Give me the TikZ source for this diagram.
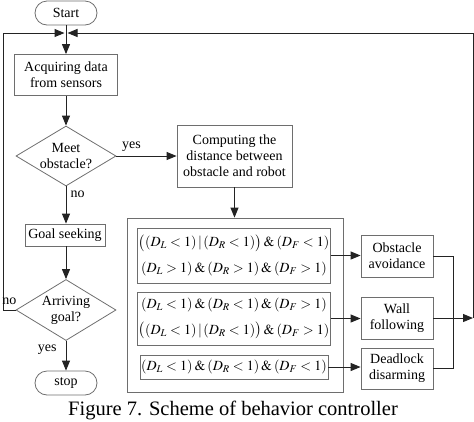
\documentclass[tikz,border=0pt]{standalone}
\usepackage{mathptmx}
\usepackage{fontspec}
\setmainfont{Liberation Serif}
\usepackage{xcolor}
\usepackage{tikz}
\usetikzlibrary{arrows.meta,positioning,shapes.geometric}
\definecolor{boxline}{RGB}{110,110,110}
\definecolor{flowline}{RGB}{35,35,35}

\begin{document}
\begin{tikzpicture}[x=1pt, y=-1pt,
  every node/.style={font=\fontsize{14}{16}\selectfont, align=center, inner sep=1pt},
  proc_node/.style={draw=boxline, line width=0.8pt},
  dec_node/.style={draw=boxline, line width=0.8pt, diamond, aspect=1.7, inner sep=0pt},
  term_node/.style={draw=boxline, line width=0.8pt, rounded corners=12pt},
  cond_node/.style={draw=boxline, line width=0.8pt, minimum width=188pt,
    font=\fontsize{14}{26}\selectfont},
  lbl/.style={font=\fontsize{14}{16}\selectfont, inner sep=0pt},
  flow/.style={draw=flowline, line width=1pt, -{Triangle[length=10pt,width=8pt]}},
  link/.style={draw=flowline, line width=1pt},
]
\useasboundingbox (0,0) rectangle (474,421);

% main column
\node[term_node, minimum width=62pt, minimum height=24pt] (start) at (66,13) {Start};
\coordinate (merge) at (66,33);
\node[proc_node, minimum width=103pt, minimum height=41pt] (acquire) at (66,75) {Acquiring data\\from sensors};
\node[dec_node, minimum width=100pt, minimum height=60pt] (meet) at (66,156) {Meet\\obstacle?};
\node[proc_node, minimum width=80pt, minimum height=22pt] (seek) at (65,235) {Goal seeking};
\node[dec_node, minimum width=100pt, minimum height=61pt] (arrive) at (66,310) {Arriving\\goal?};
\node[term_node, minimum width=62pt, minimum height=24pt] (stop) at (66,383) {stop};

% behaviour selection
\node[proc_node, minimum width=115pt, minimum height=62pt] (compute) at (234.5,156) {Computing the\\distance between\\obstacle and robot};
\node[draw=boxline, line width=0.8pt, minimum width=216pt, minimum height=174pt] (rules) at (235,305) {};
\node[cond_node, minimum height=55pt] (cond1) at (234,255.5)
  {$\bigl(\left(D_L<1\right)|\left(D_R<1\right)\bigr)\mathbin{\&}\left(D_F<1\right)$\\
   $\left(D_L>1\right)\mathbin{\&}\left(D_R>1\right)\mathbin{\&}\left(D_F>1\right)$};
\node[cond_node, minimum height=53pt] (cond2) at (234,318.5)
  {$\left(D_L<1\right)\mathbin{\&}\left(D_R<1\right)\mathbin{\&}\left(D_F>1\right)$\\
   $\bigl(\left(D_L<1\right)|\left(D_R<1\right)\bigr)\mathbin{\&}\left(D_F>1\right)$};
\node[cond_node, minimum height=24pt] (cond3) at (234,367)
  {$\left(D_L<1\right)\mathbin{\&}\left(D_R<1\right)\mathbin{\&}\left(D_F<1\right)$};

\node[proc_node, minimum width=72pt, minimum height=42pt] (avoid) at (397,256) {Obstacle\\avoidance};
\node[proc_node, minimum width=72pt, minimum height=42pt] (wall) at (397,318) {Wall\\following};
\node[proc_node, minimum width=72pt, minimum height=41pt] (dead) at (397,368.5) {Deadlock\\disarming};

\coordinate (loopL) at (3,0);
\coordinate (loopR) at (473,0);
\coordinate (join) at (453,318);

% connectors
\draw[link] (start) -- (merge);
\draw[flow] (merge) -- (acquire);
\draw[flow] (acquire) -- (meet);
\draw[flow] (meet) -- node[lbl, above=4pt, pos=0.25]{yes} (compute);
\draw[flow] (meet) -- node[lbl, right=4pt, pos=0.2]{no} (meet |- seek.north);
\draw[flow] (seek.south -| arrive) -- (arrive);
\draw[flow] (arrive) -- node[lbl, left=9pt, pos=0.3]{yes} (stop);
\draw[flow, shorten >=1.5pt] (arrive.west) -- node[lbl, above=5pt]{no} (arrive.west -| loopL) |- (merge);

\draw[flow] (compute) -- (compute |- rules.north);
\draw[flow] (cond1.east) -- (cond1.east -| avoid.west);
\draw[flow] (cond2.east) -- (cond2.east -| wall.west);
\draw[flow] (cond3.east) -- (cond3.east -| dead.west);
\draw[link] (avoid.east) -| (join);
\draw[link] (dead.east) -| (join);
\draw[flow] (wall.east) -- (wall.east -| loopR);
\draw[flow, shorten >=1.5pt] (wall.east -| loopR) |- (merge);

\node[font=\fontsize{20.5}{24}\selectfont] (caption) at (233,410) {Figure 7. Scheme of behavior controller};
\end{tikzpicture}
\end{document}
